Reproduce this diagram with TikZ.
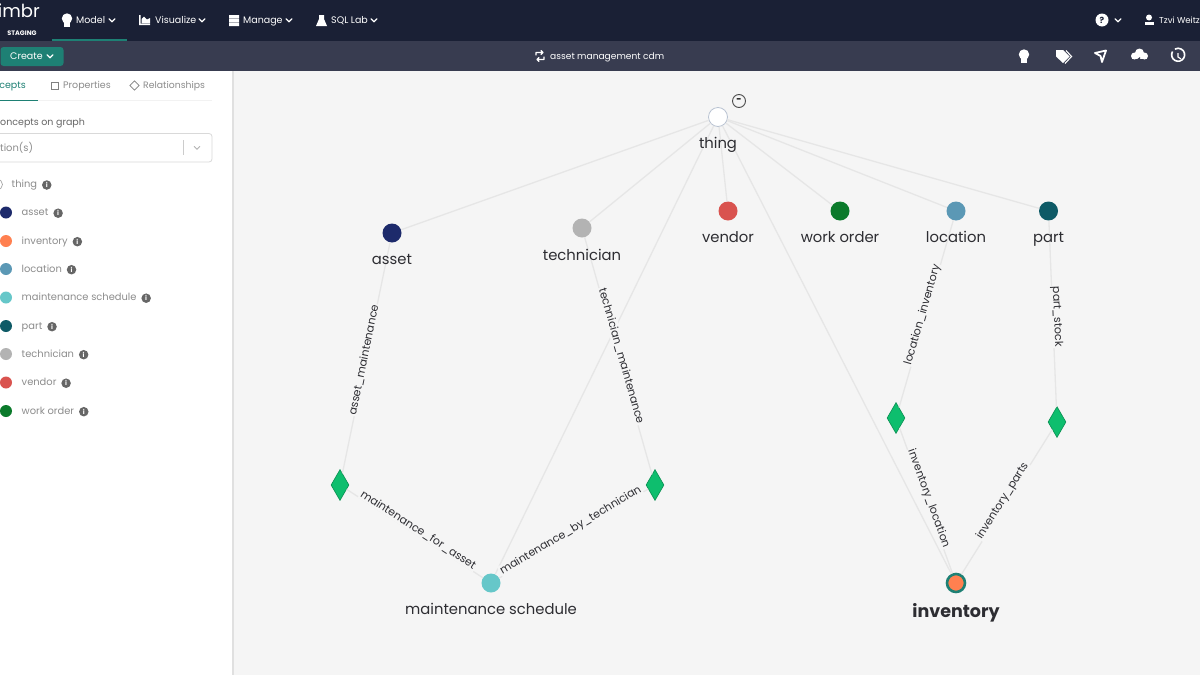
\documentclass[tikz,border=0pt]{standalone}
\usepackage{fontspec}
\setmainfont{Poppins}
\usepackage{xcolor}
\usetikzlibrary{positioning, shapes.geometric}
\definecolor{navbar}{RGB}{26, 32, 53}
\definecolor{subbar}{RGB}{56, 60, 80}
\definecolor{teal}{RGB}{30, 128, 116}
\definecolor{canvas}{RGB}{245, 245, 245}
\definecolor{edgegray}{RGB}{230, 230, 230}
\definecolor{textgray}{RGB}{140, 140, 140}
\definecolor{inkgray}{RGB}{45, 45, 50}
\definecolor{cthing}{RGB}{255, 255, 255}
\definecolor{cthingline}{RGB}{185, 195, 210}
\definecolor{casset}{RGB}{29, 42, 107}
\definecolor{cinventory}{RGB}{255, 128, 80}
\definecolor{clocation}{RGB}{91, 152, 181}
\definecolor{cschedule}{RGB}{102, 199, 201}
\definecolor{cpart}{RGB}{14, 90, 102}
\definecolor{ctechnician}{RGB}{179, 179, 179}
\definecolor{cvendor}{RGB}{217, 83, 79}
\definecolor{cworkorder}{RGB}{11, 122, 43}
\definecolor{relgreen}{RGB}{14, 190, 110}
\tikzset{
    concept/.style={circle, minimum size=19pt, inner sep=0pt},
    conceptname/.style={font=\fontsize{14.8}{18}\selectfont, text=inkgray, inner sep=0pt, text height=12pt, text depth=3pt},
    relation/.style={diamond, draw=relgreen!75!black, fill=relgreen, minimum width=18pt, minimum height=31pt, inner sep=0pt, line width=0.6pt},
    rel/.style={draw=edgegray, line width=1.3pt},
    rellabel/.style={font=\fontsize{11}{12}\selectfont, text=inkgray, fill=canvas, inner sep=1pt, sloped},
    navtext/.style={font=\fontsize{9.5}{11}\selectfont, text=white, inner sep=0pt, anchor=west, text height=7pt, text depth=1.8pt},
    tabtext/.style={font=\fontsize{9.5}{11}\selectfont, text=textgray, inner sep=0pt, anchor=west, text height=7pt, text depth=1.8pt},
    legendtext/.style={font=\fontsize{9.9}{11}\selectfont, text=textgray, inner sep=0pt, anchor=west, text height=7pt, text depth=1.8pt},
    legenddot/.style={circle, minimum size=12pt, inner sep=0pt},
    infodot/.style={circle, fill=black!60, minimum size=9.5pt, inner sep=0pt, text=white, font=\fontsize{6.5}{7}\selectfont\bfseries},
    chevron/.style={draw=white, line width=1.3pt, line cap=round, line join=round}
}
\newcommand{\chev}[3][chevron]{\draw[#1] (#2-3,#3-1.7) -- (#2,#3+1.3) -- (#2+3,#3-1.7);}
\newcommand{\bulb}[2]{
    \fill[white] (#1,#2-1.5) circle (5.2);
    \fill[white] (#1-2.6,#2+2) rectangle (#1+2.6,#2+6.5);
}
\begin{document}
\begin{tikzpicture}[x=1pt, y=-1pt]
    \useasboundingbox (0,0) rectangle (1200,675);
    \fill[canvas] (0,0) rectangle (1200,675);
    \fill[white] (0,71) rectangle (232,675);
    \fill[black!12] (232,71) rectangle (234,675);
    \fill[navbar] (0,0) rectangle (1200,41);
    \fill[subbar] (0,41) rectangle (1200,71);
    \fill[teal] (52,38.5) rectangle (127,40.5);

    \node[navtext, anchor=east, font=\fontsize{18}{20}\selectfont] (brand) at (40,15) {imbr};
    \node[navtext, anchor=center, font=\fontsize{6.5}{8}\selectfont\bfseries] (staging) at (22,33) {STAGING};
    \bulb{67}{20}
    \node[navtext] (model) at (76,20.5) {Model};
    \chev{112}{20.5}
    \fill[white] (139,15) rectangle (140.5,25) (139,23.5) rectangle (150,25) (141.5,23) -- (141.5,19) -- (144,16.5) -- (147,19.5) -- (150,18) -- (150,23) -- cycle;
    \node[navtext] (visualize) at (155,20.5) {Visualize};
    \chev{202}{20.5}
    \fill[white] (229,15) rectangle (239,18.5) (229,19) rectangle (239,22) (229,22.5) rectangle (239,26);
    \node[navtext] (manage) at (243,20.5) {Manage};
    \chev{289}{20.5}
    \fill[white] (319,15) -- (324,15) -- (324,19) -- (327,26) -- (316,26) -- (319,19) -- cycle;
    \node[navtext] (sqllab) at (331,20.5) {SQL Lab};
    \chev{374}{20.5}

    \node[circle, fill=white, minimum size=13pt, inner sep=0pt, text=navbar, font=\fontsize{8.5}{9}\selectfont\bfseries] (help) at (1102,20) {?};
    \chev{1118}{20.5}
    \fill[white] (1149,17.5) circle (3);
    \fill[white] (1144.5,25) rectangle (1153.5,21.5);
    \node[navtext, font=\fontsize{8.6}{11}\selectfont] (user) at (1159,20.5) {Tzvi Weitz};

    \node[rounded corners=3pt, fill=teal, minimum width=63pt, minimum height=19pt, inner sep=0pt] (create) at (32,56.5) {};
    \node[navtext] (createtext) at (10,56.5) {Create};
    \chev{50}{56.5}

    \draw[chevron, line width=1.1pt] (536,55) -- (536,52.5) -- (543,52.5) (541,50.5) -- (543,52.5) -- (541,54.5) (544,57) -- (544,59.5) -- (537,59.5) (539,57.5) -- (537,59.5) -- (539,61.5);
    \node[navtext, font=\fontsize{9.1}{11}\selectfont] (model name) at (550,56.5) {asset management cdm};

    \bulb{1024}{56}
    \fill[white] (1056,50) -- (1063,50) -- (1069.5,56.5) -- (1063,63) -- (1056,56.5) -- cycle;
    \draw[white, line width=1.1pt] (1066,50.5) -- (1071.5,56.5) -- (1065,63.5);
    \draw[white, line width=1.8pt, line join=round] (1095,53) -- (1106,50.5) -- (1102,62) -- (1100.5,56) -- cycle;
    \fill[white] (1139.5,53) circle (4.5) (1134.5,56) circle (3.5) (1144.5,56) circle (3.5);
    \fill[white] (1132,56) rectangle (1147,59);
    \fill[subbar] (1140,57) -- (1136,60) -- (1139,60) -- (1138,64) -- (1143,59) -- (1140,59) -- cycle;
    \draw[white, line width=1.6pt] (1172.5,51.5) arc (210:-120:6.5);
    \draw[white, line width=1.2pt] (1178,53) -- (1178,57) -- (1181,59);

    \node[tabtext, text=teal, anchor=east] (concepts tab) at (26,86) {cepts};
    \fill[teal] (0,99.5) rectangle (38,101);
    \fill[black!5] (38,100) rectangle (212,101);
    \draw[black!50, line width=0.7pt] (51.5,82.5) rectangle (58.5,89.5);
    \node[tabtext] (properties tab) at (63,86) {Properties};
    \node[diamond, draw=black!50, line width=0.7pt, minimum size=9.5pt, inner sep=0pt] (relation mark) at (134.5,85.5) {};
    \node[tabtext, font=\fontsize{9.3}{11}\selectfont] (relationships tab) at (143,86) {Relationships};

    \node[legendtext, text=black!60, font=\fontsize{9.5}{11}\selectfont] (filter title) at (0,123) {oncepts on graph};
    \draw[black!15, rounded corners=3pt, line width=0.8pt] (-5,133.5) rectangle (212,162);
    \node[legendtext] (filter text) at (0,148.5) {tion(s)};
    \draw[black!20, line width=0.7pt] (183.5,140) -- (183.5,155);
    \chev[draw=black!30, line width=0.8pt]{197}{148}

    \draw[black!35, line width=0.7pt] (-3,184.5) circle (5.5);
    \node[legendtext] (legend thing) at (11.5,185) {thing};
    \node[infodot, right=4.5pt of legend thing] (info thing) {i};
    \foreach \y/\col/\lab [count=\i] in {212.5/casset/asset, 241/cinventory/inventory, 269/clocation/location, 297.5/cschedule/maintenance schedule, 326/cpart/part, 354/ctechnician/technician, 382.5/cvendor/vendor, 411/cworkorder/work order}{
        \node[legenddot, fill=\col] (dot\i) at (6,\y) {};
        \node[legendtext, yshift=-0.7pt] (legend\i) at (21.5,\y) {\lab};
        \node[infodot, right=4.5pt of legend\i] (info\i) {i};
    }

    \node[concept, fill=cthing, draw=cthingline, line width=0.8pt] (thing) at (718,117) {};
    \node[concept, fill=casset] (asset) at (392,233) {};
    \node[concept, fill=ctechnician] (technician) at (582,228) {};
    \node[concept, fill=cvendor] (vendor) at (728,211) {};
    \node[concept, fill=cworkorder] (workorder) at (840,211) {};
    \node[concept, fill=clocation] (location) at (956,211) {};
    \node[concept, fill=cpart] (part) at (1048.5,211) {};
    \node[concept, fill=cschedule] (schedule) at (491,583) {};
    \node[concept, fill=cinventory, draw=teal, line width=2.6pt, minimum size=18pt] (inventory) at (956,583) {};

    \node[relation] (assetrel) at (340,485) {};
    \node[relation] (techrel) at (655,485) {};
    \node[relation] (locrel) at (896,418) {};
    \node[relation] (partrel) at (1057,422) {};

    \draw[rel] (thing) -- (asset);
    \draw[rel] (thing) -- (technician);
    \draw[rel] (thing) -- (vendor);
    \draw[rel] (thing) -- (workorder);
    \draw[rel] (thing) -- (location);
    \draw[rel] (thing) -- (part);
    \draw[rel] (thing) -- (schedule);
    \draw[rel] (thing) -- (inventory);

    \draw[rel] (asset) -- node[rellabel, xshift=-2.5pt, yshift=2pt] {asset\_maintenance} (assetrel);
    \draw[rel] (assetrel) -- node[rellabel, xshift=1pt, yshift=5pt] {maintenance\_for\_asset} (schedule);
    \draw[rel] (technician) -- node[rellabel, xshift=1pt, yshift=3pt] {technician\_maintenance} (techrel);
    \draw[rel] (techrel) -- node[rellabel, xshift=-1pt, yshift=4pt] {maintenance\_by\_technician} (schedule);
    \draw[rel] (location) -- node[rellabel, xshift=-2pt, yshift=3pt] {location\_inventory} (locrel);
    \draw[rel] (part) -- node[rellabel, xshift=3pt, yshift=4pt] {part\_stock} (partrel);
    \draw[rel] (locrel) -- node[rellabel, xshift=-1pt, yshift=3pt] {inventory\_location} (inventory);
    \draw[rel] (partrel) -- node[rellabel, xshift=-1.5pt, yshift=4pt] {inventory\_parts} (inventory);

    \node[conceptname, below=9pt of thing] (thingname) {thing};
    \node[conceptname, below=10pt of asset] (assetname) {asset};
    \node[conceptname, below=10.5pt of technician] (technicianname) {technician};
    \node[conceptname, below=10pt of vendor] (vendorname) {vendor};
    \node[conceptname, below=10pt of workorder] (workordername) {work order};
    \node[conceptname, below=10pt of location] (locationname) {location};
    \node[conceptname, below=10pt of part] (partname) {part};
    \node[conceptname, below=10pt of schedule] (schedulename) {maintenance schedule};
    \node[conceptname, below=12pt of inventory, font=\fontsize{17.5}{20}\selectfont\bfseries] (inventoryname) {inventory};

    \node[circle, draw=black!70, line width=0.9pt, minimum size=13pt, inner sep=0pt, font=\fontsize{9}{9}\selectfont\bfseries] (collapse) at (739,101) {\raisebox{-2pt}{-}};
\end{tikzpicture}
\end{document}
